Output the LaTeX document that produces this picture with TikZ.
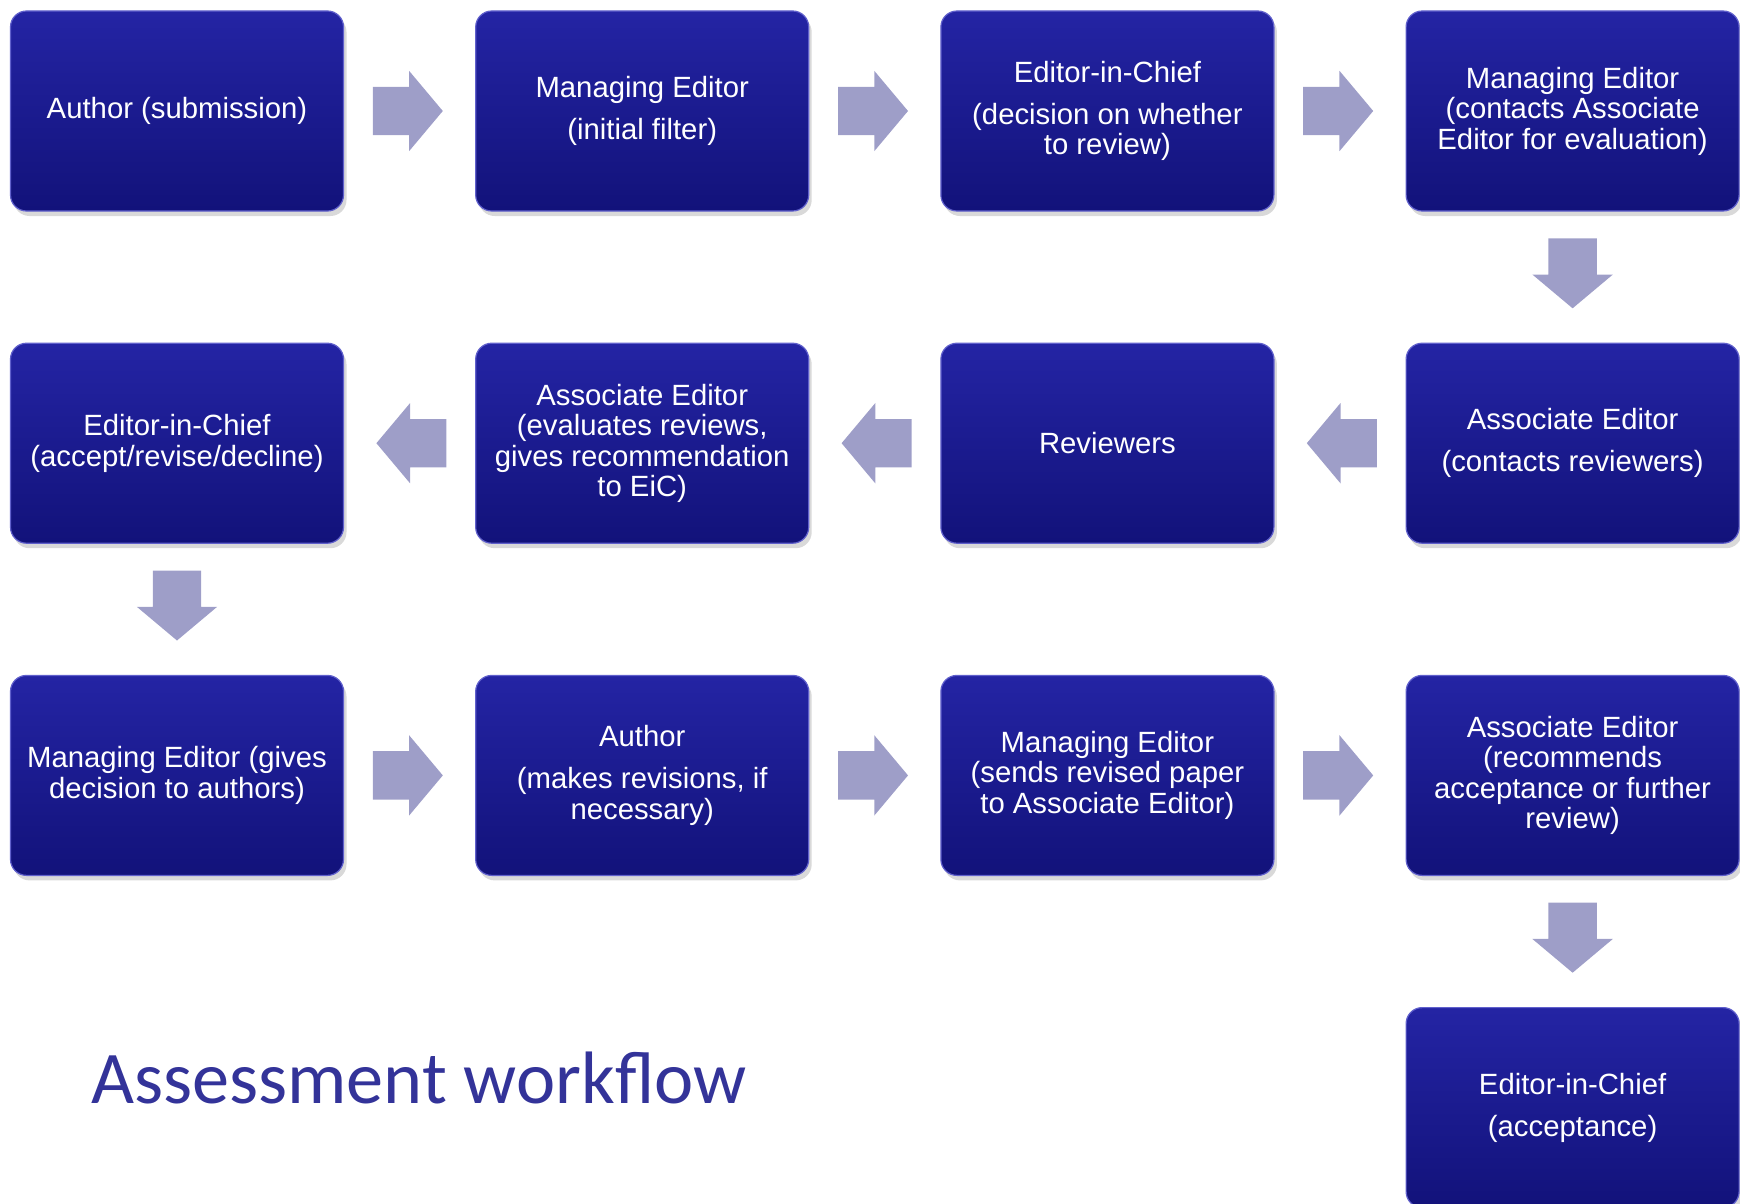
\documentclass[tikz,border=0pt]{standalone}
\usepackage{fontspec}
\setmainfont{Liberation Sans}
\newfontfamily\titlefont{Carlito}
\usetikzlibrary{positioning, calc, shapes.arrows, shadows}
\definecolor{boxtop}{RGB}{36,36,164}
\definecolor{boxbot}{RGB}{18,18,122}
\definecolor{boxrim}{RGB}{96,96,204}
\definecolor{arrfill}{RGB}{158,158,200}
\definecolor{titleblue}{RGB}{51,51,153}

\begin{document}
\begin{tikzpicture}[
    x=1pt, y=1pt,
    node distance=131pt,
    stage/.style={rounded corners=16pt, minimum width=333pt, minimum height=200pt,
                  top color=boxtop, bottom color=boxbot, draw=boxrim, line width=1.2pt,
                  text=white, align=center, inner sep=4pt,
                  font=\fontsize{29.3}{30.5}\selectfont,
                  drop shadow={shadow xshift=3pt, shadow yshift=-5pt, opacity=0.3}},
    blk/.style={single arrow, single arrow head extend=16pt, single arrow tip angle=100,
                inner xsep=0pt, inner ysep=24pt, minimum height=70pt,
                fill=arrfill, draw=none, anchor=tail},
    rarr/.style={blk},
    larr/.style={blk, rotate=180},
    darr/.style={blk, rotate=-90},
]
\useasboundingbox (0,0) rectangle (1740,-1204);

\node[stage] at (177,-111) (author) {Author (submission)};
\node[stage, right=of author] (mefilter) {Managing Editor\\[11.5pt](initial filter)};
\node[stage, right=of mefilter] (eicreview)
    {Editor-in-Chief\\[11.5pt](decision on whether\\to review)};
\node[stage, right=of eicreview] (mecontact)
    {Managing Editor\\(contacts Associate\\Editor for evaluation)};

\node[stage, below=of mecontact] (aecontact)
    {Associate Editor\\[11.5pt](contacts reviewers)};
\node[stage, left=of aecontact] (reviewers) {Reviewers};
\node[stage, left=of reviewers] (aeeval)
    {Associate Editor\\(evaluates reviews,\\gives recommendation\\to EiC)};
\node[stage, left=of aeeval] (eicdecide)
    {Editor-in-Chief\\(accept/revise/decline)};

\node[stage, below=of eicdecide] (medecide)
    {Managing Editor (gives\\decision to authors)};
\node[stage, right=of medecide] (authorrev)
    {Author\\[11.5pt](makes revisions, if\\necessary)};
\node[stage, right=of authorrev] (mesend)
    {Managing Editor\\(sends revised paper\\to Associate Editor)};
\node[stage, right=of mesend] (aerecommend)
    {Associate Editor\\(recommends\\acceptance or further\\review)};

\node[stage, below=of aerecommend] (eicaccept)
    {Editor-in-Chief\\[11.5pt](acceptance)};

\node[rarr] at ($(author)!0.5!(mefilter)+(-37,0)$) {};
\node[rarr] at ($(mefilter)!0.5!(eicreview)+(-37,0)$) {};
\node[rarr] at ($(eicreview)!0.5!(mecontact)+(-37,0)$) {};
\node[darr] at ($(mecontact)!0.5!(aecontact)+(0,39)$) {};
\node[larr] at ($(aecontact)!0.5!(reviewers)+(37,0)$) {};
\node[larr] at ($(reviewers)!0.5!(aeeval)+(37,0)$) {};
\node[larr] at ($(aeeval)!0.5!(eicdecide)+(37,0)$) {};
\node[darr] at ($(eicdecide)!0.5!(medecide)+(0,39)$) {};
\node[rarr] at ($(medecide)!0.5!(authorrev)+(-37,0)$) {};
\node[rarr] at ($(authorrev)!0.5!(mesend)+(-37,0)$) {};
\node[rarr] at ($(mesend)!0.5!(aerecommend)+(-37,0)$) {};
\node[darr] at ($(aerecommend)!0.5!(eicaccept)+(0,39)$) {};

\node[anchor=base west, inner sep=0pt, text=titleblue,
      font=\titlefont\fontsize{74.3}{82}\selectfont] at (91,-1103) (title)
    {Assessment workflow};

\end{tikzpicture}
\end{document}
